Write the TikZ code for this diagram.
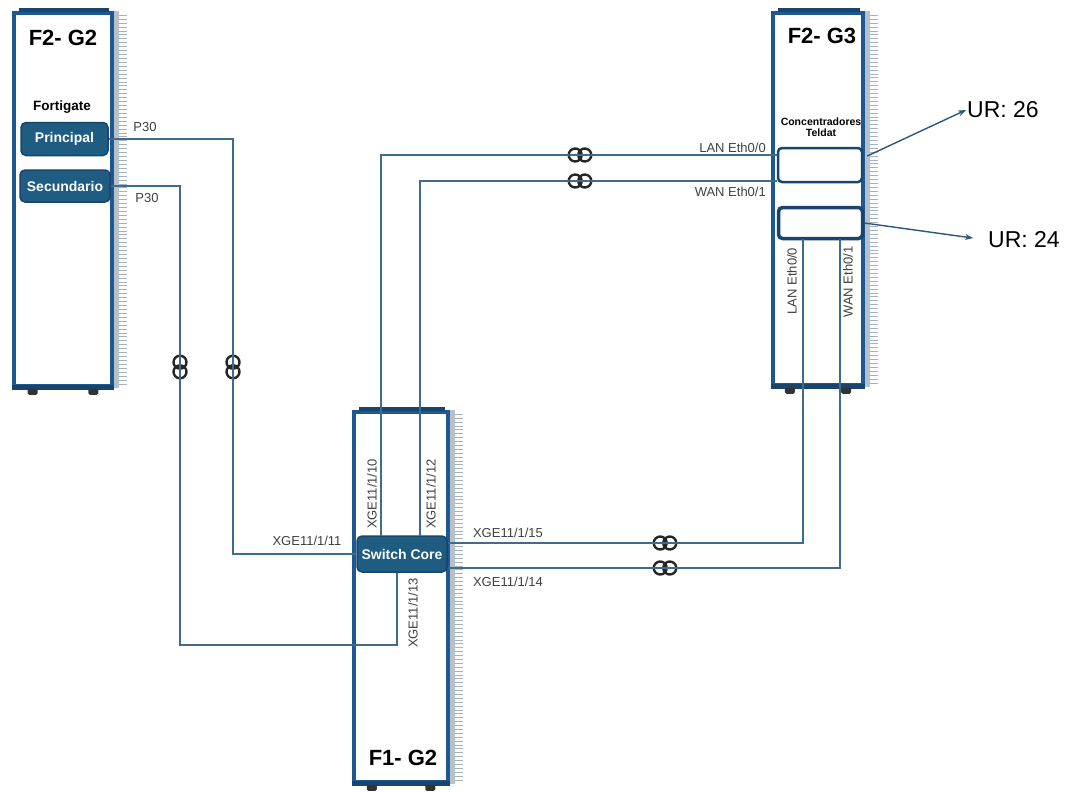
\documentclass[tikz,border=0pt]{standalone}
\usepackage{fontspec}
\setmainfont{Liberation Sans}
\usetikzlibrary{calc,arrows.meta}

\definecolor{rackblue}{RGB}{30,88,145}
\definecolor{rackdark}{RGB}{24,68,110}
\definecolor{btnblue}{RGB}{30,92,130}
\definecolor{linkblue}{RGB}{62,108,138}
\definecolor{rulergray}{RGB}{165,178,192}
\definecolor{urblue}{RGB}{40,88,125}

\tikzset{
  rack/.style={draw=rackblue, line width=3.5pt, fill=white, inner sep=0pt},
  racktitle/.style={font=\fontsize{22}{24}\selectfont\bfseries},
  btn/.style={draw=rackdark, fill=btnblue, rounded corners=5pt, line width=1.5pt,
    text=white, font=\fontsize{14}{16}\selectfont\bfseries, inner sep=0pt},
  slot/.style={draw=rackdark, rounded corners=4pt, line width=2.5pt, fill=white, inner sep=0pt},
  link/.style={draw=linkblue, line width=1.3pt},
  port/.style={font=\fontsize{13}{14}\selectfont, text=black!75, inner sep=1pt},
  fibline/.style={draw=black!85, line width=2.4pt},
  fiberh/.style={minimum width=32pt, minimum height=20pt, inner sep=0pt,
    path picture={\draw[fibline] ($(path picture bounding box.center)+(-4.8,0)$) circle (6.5)
      ($(path picture bounding box.center)+(4.8,0)$) circle (6.5);}},
  fiberv/.style={minimum width=20pt, minimum height=32pt, inner sep=0pt,
    path picture={\draw[fibline] ($(path picture bounding box.center)+(0,-4.8)$) circle (6.5)
      ($(path picture bounding box.center)+(0,4.8)$) circle (6.5);}},
  urlabel/.style={font=\fontsize{23}{25}\selectfont, inner sep=1pt},
  urarrow/.style={draw=urblue, line width=1.4pt, -{Stealth[length=8pt,width=6pt]}}
}

% rack frame: side rail, ruler, top/bottom bars, feet
\newcommand{\rackdeco}[1]{%
  \fill[rulergray!80] (#1.north east) rectangle ($(#1.south east)+(5,0)$);
  \foreach \t in {1,...,95}
    \draw[rulergray, line width=0.6pt] ($(#1.north east)!\t/96!(#1.south east)+(5,0)$) -- ++(8,0);
  \draw[rackdark, line width=4pt] ($(#1.north west)+(7,-1)$) -- ($(#1.north east)+(-5,-1)$);
  \draw[rackdark, line width=5pt] (#1.south west) -- (#1.south east);
  \foreach \f in {0.2,0.8}
    \fill[black!80, rounded corners=1.5pt] ($(#1.south west)!\f!(#1.south east)+(-5,1)$) rectangle ++(10,6);
}

\begin{document}
\begin{tikzpicture}[x=1pt,y=-1pt]
\useasboundingbox (0,0) rectangle (1065,792);

% racks
\node[rack, minimum width=98pt, minimum height=373pt] (rackA) at (63,199.5) {};
\node[rack, minimum width=90pt, minimum height=372pt] (rackB) at (818,199) {};
\node[rack, minimum width=94pt, minimum height=370pt] (rackC) at (401,597) {};
\rackdeco{rackA}
\rackdeco{rackB}
\rackdeco{rackC}

% rack titles
\node[racktitle] (titleA) at (63,38) {F2- G2};
\node[racktitle] (titleB) at (822,36) {F2- G3};
\node[racktitle] (titleC) at (403,758) {F1- G2};

% equipment
\node[font=\fontsize{13.5}{15}\selectfont\bfseries] (fortigate) at (62,107) {Fortigate};
\node[btn, minimum width=87pt, minimum height=33pt] (principal) at (64.5,139) {Principal};
\node[btn, minimum width=90pt, minimum height=32pt] (secundario) at (65,186) {Secundario};
\node[align=center, font=\fontsize{10.5}{11}\selectfont\bfseries] (conc) at (821,127) {Concentradores\\Teldat};
\node[slot, minimum width=84pt, minimum height=34pt] (slotA) at (820,165) {};
\node[slot, minimum width=84pt, minimum height=31pt, line width=3.5pt] (slotB) at (820.5,223) {};
\node[btn, minimum width=90pt, minimum height=36pt] (core) at (402,554) {Switch Core};

% fibre symbols
\node[fiberv] (fibA) at (233,367) {};
\node[fiberv] (fibB) at (180,367) {};
\node[fiberh] (fibC) at (580,155) {};
\node[fiberh] (fibD) at (580,181) {};
\node[fiberh] (fibE) at (665,543) {};
\node[fiberh] (fibF) at (665,568) {};

% corner points
\coordinate (c13) at (397,645);
\coordinate (c10) at (381,536);
\coordinate (c12) at (420,536);
\coordinate (eth0) at (803,239);
\coordinate (eth1) at (840,239);

% links
\draw[link] (principal.east) -| (fibA.center) |- (core.west);
\draw[link] (secundario.east) -| (fibB.center) |- (c13) -- (c13 |- core.south);
\draw[link] (slotA.west |- fibC) -- (fibC.center) -| (c10);
\draw[link] (slotA.west |- fibD) -- (fibD.center) -| (c12);
\draw[link] (eth0) |- (fibE.center) -- (core.east |- fibE);
\draw[link] (eth1) |- (fibF.center) -- (core.east |- fibF);

% port labels
\node[port] (lblP30a) at (145,127) {P30};
\node[port] (lblP30b) at (147,198) {P30};
\node[port] (lblX11) at (307,541) {XGE11/1/11};
\node[port, rotate=90] (lblX10) at (372,494) {XGE11/1/10};
\node[port, rotate=90] (lblX12) at (431,494) {XGE11/1/12};
\node[port, rotate=90] (lblX13) at (413,613) {XGE11/1/13};
\node[port] (lblX15) at (508,533) {XGE11/1/15};
\node[port] (lblX14) at (508,582) {XGE11/1/14};
\node[port, anchor=east] (lblLan) at (767,148) {LAN Eth0/0};
\node[port, anchor=east] (lblWan) at (767,192) {WAN Eth0/1};
\node[port, rotate=90] (lblLanV) at (792,281) {LAN Eth0/0};
\node[port, rotate=90] (lblWanV) at (848,282) {WAN Eth0/1};

% UR labels
\node[urlabel, anchor=west] (ur26) at (966,110) {UR: 26};
\node[urlabel, anchor=west] (ur24) at (987,240) {UR: 24};
\draw[urarrow] ($(slotA.east)+(4,-9)$) -- (ur26.west);
\draw[urarrow, shorten >=14pt] (slotB.east) -- (ur24.west);
\end{tikzpicture}
\end{document}
